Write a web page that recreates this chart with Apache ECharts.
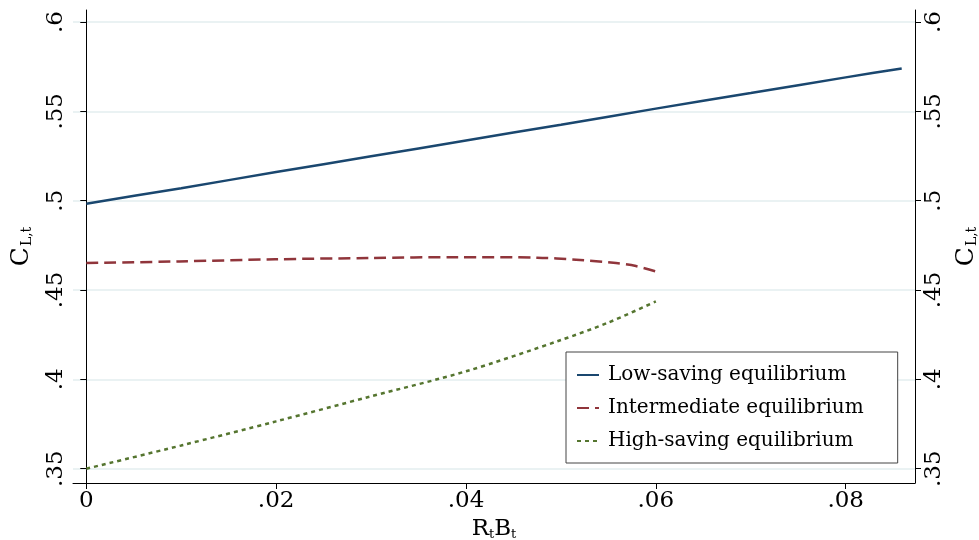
<!DOCTYPE html>
<html>
<head>
<meta charset="utf-8">
<script src="https://cdn.jsdelivr.net/npm/echarts@6/dist/echarts.min.js"></script>
<style>html,body{margin:0;padding:0;background:#fff;}#c{width:979px;height:540px;}</style>
</head>
<body>
<div id="c"></div>
<script>
const xTicks = [0, 0.02, 0.04, 0.06, 0.08];
const yTicks = [0.35, 0.4, 0.45, 0.5, 0.55, 0.6];

const blueX = [0, 0.01, 0.02, 0.03, 0.04, 0.05, 0.06, 0.07, 0.08, 0.0859];
const blueY = [0.4983, 0.507, 0.516, 0.5248, 0.5337, 0.5425, 0.5515, 0.5602, 0.569, 0.574];

const redX = [0, 0.0098, 0.0199, 0.0299, 0.0391, 0.0475, 0.0516, 0.0558, 0.0579, 0.06];
const redY = [0.4651, 0.466, 0.4672, 0.4679, 0.4684, 0.4681, 0.4670, 0.4651, 0.4634, 0.4604];

const greenX = [0, 0.01, 0.02, 0.03, 0.04, 0.05, 0.055, 0.06];
const greenY = [0.35, 0.363, 0.3765, 0.3905, 0.4045, 0.422, 0.4318, 0.4436];

const seriesNames = ['Low-saving equilibrium', 'Intermediate equilibrium', 'High-saving equilibrium'];

const FONT = 'DejaVu Serif';
const fmt = v => (Math.abs(v) < 1e-12 ? '0' : String(+v.toFixed(4)).replace(/^0/, ''));
const zip = (xs, ys) => xs.map((x, i) => [x, ys[i]]);

const yName = '{m|C}{s|L,t}';
const nameRich = {
  m: { fontFamily: FONT, fontSize: 25, color: '#000', lineHeight: 32, verticalAlign: 'bottom' },
  s: { fontFamily: FONT, fontSize: 14, color: '#000', lineHeight: 32, verticalAlign: 'bottom', padding: [0, 0, 0, 1] }
};

const yCommon = {
  type: 'value', min: 0.342, max: 0.6067,
  nameLocation: 'middle', nameRotate: 90,
  nameTextStyle: { rich: nameRich },
  axisLine: { show: true, lineStyle: { color: '#000', width: 1 } },
  axisTick: { show: true, length: 6, inside: false, customValues: yTicks, lineStyle: { color: '#000', width: 1 } },
  axisLabel: { customValues: yTicks, rotate: 90, formatter: fmt, fontFamily: FONT, fontSize: 23, color: '#000', margin: 5 },
  splitLine: { show: true, lineStyle: { color: '#eaf2f3', width: 1.8 } }
};

const option = {
  animation: false,
  backgroundColor: '#fff',
  grid: { left: 73, right: 64, top: 10, bottom: 57, containLabel: false, outerBoundsMode: 'none' },
  xAxis: {
    type: 'value', min: -0.0014, max: 0.0873,
    name: '{m|R}{s|t}{m|B}{s|t}', nameLocation: 'middle', nameGap: 30,
    nameTextStyle: { rich: {
      m: { fontFamily: FONT, fontSize: 23, color: '#000', lineHeight: 28, verticalAlign: 'bottom' },
      s: { fontFamily: FONT, fontSize: 13, color: '#000', lineHeight: 28, verticalAlign: 'bottom' }
    } },
    axisLine: { show: true, onZero: false, lineStyle: { color: '#000', width: 1 } },
    axisTick: { show: true, length: 6, customValues: xTicks, lineStyle: { color: '#000', width: 1 } },
    axisLabel: { customValues: xTicks, formatter: fmt, fontFamily: FONT, fontSize: 23, color: '#000', margin: 7 },
    splitLine: { show: false }
  },
  yAxis: [
    Object.assign({}, yCommon, { position: 'left', name: yName, nameGap: 39 }),
    Object.assign({}, yCommon, { position: 'right', name: yName, nameGap: 30, splitLine: { show: false },
      axisLabel: Object.assign({}, yCommon.axisLabel, { margin: 8 }) })
  ],
  legend: {
    orient: 'vertical', left: 566, top: 352,
    backgroundColor: '#fff', borderColor: '#444', borderWidth: 1,
    padding: [13, 34, 12, 10], itemGap: 13, itemWidth: 22, itemHeight: 14,
    itemStyle: { color: 'rgba(0,0,0,0)', borderColor: 'rgba(0,0,0,0)', borderWidth: 0, opacity: 0 },
    textStyle: { fontFamily: FONT, fontSize: 20, color: '#000', padding: [0, 0, 0, 4] },
    data: seriesNames
  },
  series: [
    { name: seriesNames[0], type: 'line', data: zip(blueX, blueY), showSymbol: false, symbol: 'none', smooth: 0.2,
      lineStyle: { color: '#1a476f', width: 2.5 }, itemStyle: { color: '#1a476f' } },
    { name: seriesNames[1], type: 'line', data: zip(redX, redY), showSymbol: false, symbol: 'none', smooth: 0.3,
      lineStyle: { color: '#90353b', width: 2.5, type: [12, 6] }, itemStyle: { color: '#90353b' } },
    { name: seriesNames[2], type: 'line', data: zip(greenX, greenY), showSymbol: false, symbol: 'none', smooth: 0.3,
      lineStyle: { color: '#55752f', width: 2.5, type: [4, 4] }, itemStyle: { color: '#55752f' } }
  ]
};

const chart = echarts.init(document.getElementById('c'), null, { renderer: 'canvas' });
chart.setOption(option);
</script>
</body>
</html>
